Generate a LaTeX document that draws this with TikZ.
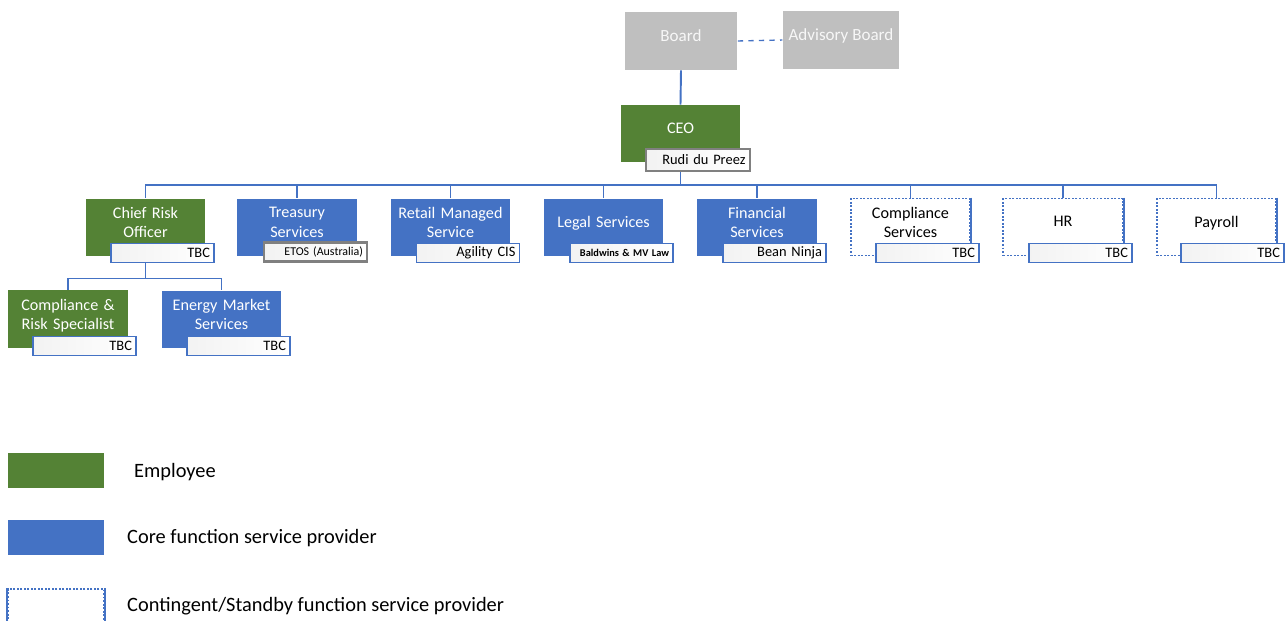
\documentclass[tikz,border=0pt]{standalone}
\usepackage{fontspec}
\setmainfont{Carlito}
\definecolor{empgreen}{RGB}{84, 130, 53}
\definecolor{coreblue}{RGB}{68, 114, 196}
\definecolor{boardgray}{RGB}{191, 191, 191}
\usepackage{tikz}
\usetikzlibrary{positioning}

\begin{document}
\begin{tikzpicture}[x=0.02cm, y=-0.02cm,
  link/.style={draw=coreblue, line width=1.1pt},
  boardbox/.style={fill=boardgray, text=white!94!gray, minimum width=2.26cm, minimum height=1.16cm, text depth=6pt, font=\fontsize{9.7}{11.5}\selectfont},
  empbox/.style={fill=empgreen, text=white, minimum width=2.26cm, minimum height=1.14cm, text width=2.15cm, text depth=16.5pt, align=center, font=\fontsize{9.2}{11}\selectfont},
  corebox/.style={empbox, fill=coreblue, minimum width=2.22cm},
  standbybox/.style={empbox, draw=coreblue, line width=1.1pt, dash pattern=on 1.1pt off 0.9pt, fill=white, text=black, minimum width=2.28cm},
  oneline/.style={text depth=6pt},
  namebox/.style={draw=coreblue, line width=1.1pt, left color=black!5, right color=white, minimum width=2.06cm, minimum height=0.38cm, inner sep=1.5pt, text width=1.9cm, align=right, font=\fontsize{8.2}{9}\selectfont},
  extbox/.style={namebox, draw=black!50, line width=1.5pt}
]
  \useasboundingbox (0,0) rectangle (1286,620);

  % Board level
  \node[boardbox] (board) at (681,41) {Board};
  \node[boardbox, minimum width=2.22cm] (advisory) at (841,40) {Advisory Board};
  \draw[link, dashed, line width=0.8pt] (board.east) -- (advisory.west);

  % CEO
  \node[empbox, oneline] (ceo) at (680.5,133.5) {CEO};
  \node[extbox, minimum width=2.08cm, minimum height=0.44cm] (ceoname) at (698,160) {Rudi du Preez};
  \draw[link] (board.south) -- (ceo.north);

  % Second row
  \node[empbox] (cro) at (145.5,227) {Chief Risk\\Officer};
  \node[namebox] (croname) at (162.5,253) {TBC};
  \node[corebox] (treasury) at (297,227) {Treasury\\Services};
  \node[extbox, font=\fontsize{6.8}{8}\selectfont] (treasuryname) at (315.5,252) {ETOS (Australia)};
  \node[corebox] (retail) at (450.5,227) {Retail Managed\\Service};
  \node[namebox] (retailname) at (468,253) {Agility CIS};
  \node[corebox, oneline] (legal) at (603.5,227) {Legal Services};
  \node[namebox, font=\fontsize{5.9}{7}\selectfont\bfseries] (legalname) at (621.5,253) {Baldwins \& MV Law};
  \node[corebox] (financial) at (757,227) {Financial\\Services};
  \node[namebox] (financialname) at (774.5,253) {Bean Ninja};
  \node[standbybox] (compliance) at (910.5,227) {Compliance\\Services};
  \node[standbybox, oneline] (hr) at (1063,227) {HR};
  \node[standbybox, oneline] (payroll) at (1216.5,227) {Payroll};
  % solid right-hand sides of the standby boxes
  \draw[link] (compliance.north east) -- (compliance.south east);
  \draw[link] (hr.north east) -- (hr.south east);
  \draw[link] (payroll.north east) -- (payroll.south east);
  \node[namebox] (compliancename) at (927.5,253) {TBC};
  \node[namebox] (hrname) at (1080.5,253) {TBC};
  \node[namebox] (payrollname) at (1232.5,253) {TBC};

  \draw[link] (ceo.south |- ceoname.south) -- ++(0,13) coordinate (bus);
  \draw[link] (bus) -| (cro.north);
  \draw[link] (bus) -| (treasury.north);
  \draw[link] (bus) -| (retail.north);
  \draw[link] (bus) -| (legal.north);
  \draw[link] (bus) -| (financial.north);
  \draw[link] (bus) -| (compliance.north);
  \draw[link] (bus) -| (hr.north);
  \draw[link] (bus) -| (payroll.north);

  % Under the Chief Risk Officer
  \node[empbox, minimum width=2.2cm, minimum height=1.16cm] (specialist) at (68,319) {Compliance \&\\Risk Specialist};
  \node[namebox] (specialistname) at (84.5,346) {TBC};
  \node[corebox] (energy) at (221.5,319) {Energy Market\\Services};
  \node[namebox] (energyname) at (238.5,346) {TBC};
  \draw[link] (cro.south |- croname.south) -- ++(0,15) coordinate (crobus);
  \draw[link] (crobus) -| (specialist.north);
  \draw[link] (crobus) -| (energy.north);

  % Legend
  \node[fill=empgreen, minimum width=1.92cm, minimum height=0.7cm] (legemp) at (56,470.5) {};
  \node[anchor=west, font=\fontsize{11.6}{14}\selectfont] (legemptext) at (128,472) {Employee};
  \node[fill=coreblue, minimum width=1.92cm, minimum height=0.7cm] (legcore) at (56,537.5) {};
  \node[anchor=west, font=\fontsize{11.6}{14}\selectfont] (legcoretext) at (121,538) {Core function service provider};
  \node[draw=coreblue, line width=1.1pt, dash pattern=on 1.1pt off 0.9pt, minimum width=1.92cm, minimum height=0.8cm] (legstandby) at (56,609) {};
  \draw[link] (legstandby.north east) -- (legstandby.south east);
  \draw[link] (legstandby.north west) -- (legstandby.south west);
  \node[anchor=west, font=\fontsize{11.6}{14}\selectfont] (legstandbytext) at (121,606) {Contingent/Standby function service provider};
\end{tikzpicture}
\end{document}
